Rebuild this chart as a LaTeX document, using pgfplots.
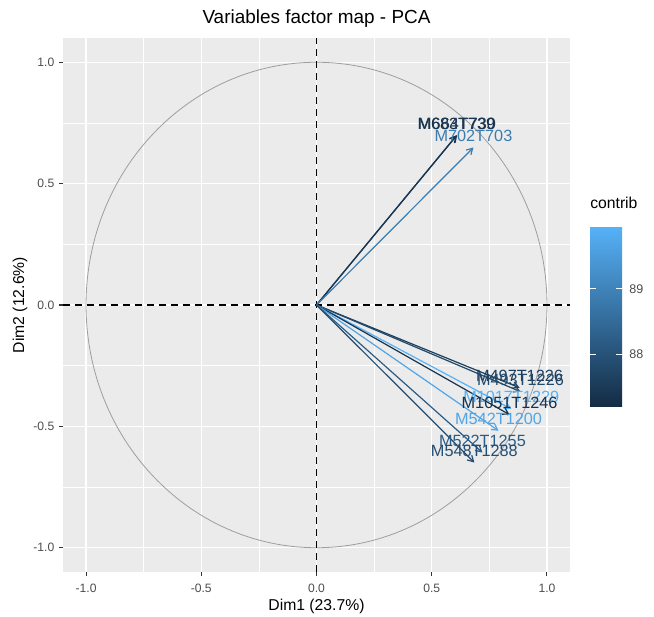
\documentclass[border=0pt]{standalone}
\usepackage{fontspec}
\setmainfont{Liberation Sans}
\usepackage{pgfplots}
\pgfplotsset{compat=1.18}
\usetikzlibrary{arrows.meta}

\definecolor{gglow}{HTML}{132B43}
\definecolor{gghigh}{HTML}{56B1F7}
\definecolor{ggpanel}{HTML}{EBEBEB}
\definecolor{ggtext}{HTML}{4D4D4D}
\definecolor{ggtick}{HTML}{333333}
\definecolor{ggcircle}{HTML}{9E9E9E}

% colour of an arrow from its contrib value (scale 87.2 .. 89.94)
\newcommand{\contribcolor}[2]{%
  \pgfmathsetmacro\cpct{(#2-87.2)/2.74*100}%
  \colorlet{#1}{gghigh!\cpct!gglow}}
\contribcolor{cA}{87.25}  % M683T739
\contribcolor{cB}{87.45}  % M664T730
\contribcolor{cC}{88.85}  % M702T703
\contribcolor{cD}{87.6}   % M497T1226
\contribcolor{cE}{87.8}   % M493T1226
\contribcolor{cF}{89.94}  % M1017T1229
\contribcolor{cG}{87.35}  % M1051T1246
\contribcolor{cH}{89.7}   % M542T1200
\contribcolor{cI}{88.2}   % M522T1255
\contribcolor{cJ}{87.9}   % M548T1288

\tikzset{
  pcaarrow/.style={line width=0.9pt, -{Straight Barb[angle=60:5pt]}},
  pcalabel/.style={anchor=base, yshift=4.5pt, inner sep=0pt, font=\fontsize{12.2}{14}\selectfont},
}

\begin{document}
\begin{tikzpicture}
\useasboundingbox (-47.25pt,-33.75pt) rectangle (443.25pt,429pt);
\begin{axis}[
  at={(0,0)}, anchor=south west,
  scale only axis, width=380.25pt, height=400.5pt,
  xmin=-1.1, xmax=1.1, ymin=-1.1, ymax=1.1,
  axis background/.style={fill=ggpanel},
  axis line style={draw=none},
  xtick={-1,-0.5,0,0.5,1}, ytick={-1,-0.5,0,0.5,1},
  xticklabels={-1.0,-0.5,0.0,0.5,1.0},
  yticklabels={-1.0,-0.5,0.0,0.5,1.0},
  minor xtick={-0.75,-0.25,0.25,0.75},
  minor ytick={-0.75,-0.25,0.25,0.75},
  grid=both,
  major grid style={white, line width=0.9pt},
  minor grid style={white, line width=0.45pt},
  tick pos=left, tick align=outside,
  major tick length=3pt, minor tick length=0pt,
  tick style={ggtick, line width=0.8pt},
  ticklabel style={font=\fontsize{9.1}{11}\selectfont, text=ggtext},
  xticklabel style={anchor=base, yshift=-12.5pt},
  title={Variables factor map - PCA},
  title style={at={(axis description cs:0.5,1)}, anchor=base, yshift=4.5pt,
    font=\fontsize{14.2}{16}\selectfont},
  xlabel={Dim1 (23.7\%)},
  ylabel={Dim2 (12.6\%)},
  xlabel style={at={(axis description cs:0.5,0)}, anchor=base, yshift=-29.25pt,
    font=\fontsize{11.8}{14}\selectfont},
  ylabel style={at={(axis description cs:-0.0848,0.5)}, anchor=center,
    font=\fontsize{11.8}{14}\selectfont},
  point meta min=87.2, point meta max=89.94,
  colormap={ggblue}{rgb255=(19,43,67) rgb255=(86,177,247)},
  colorbar right,
  colorbar shift/.style={xshift=0pt},
  colorbar/width=24pt,
  colorbar style={
    at={(parent axis.north east)}, anchor=north west,
    xshift=15pt, yshift=-141.75pt,
    scale only axis, width=24pt, height=135pt,
    ytick={88,89}, yticklabels={88,89},
    axis line style={draw=none},
    ytick pos=both, yticklabel pos=right,
    tick align=inside, major tick length=4.8pt,
    ytick style={white, line width=0.8pt},
    yticklabel style={font=\fontsize{9.4}{11}\selectfont, text=ggtext, xshift=2pt},
    title={contrib},
    title style={at={(axis description cs:0,1)}, anchor=base west, yshift=7.5pt,
      inner sep=0pt, font=\fontsize{11.8}{14}\selectfont},
  },
]
% correlation circle and the two axes through the origin
\draw[ggcircle, line width=0.6pt] (axis cs:0,0) ellipse [x radius=1, y radius=1];
\draw[black, line width=1.1pt, dash pattern=on 5.5pt off 3.5pt] (axis cs:0,-1.1) -- (axis cs:0,1.1);
\draw[black, line width=1.1pt, dash pattern=on 5.5pt off 3.5pt] (axis cs:-1.1,0) -- (axis cs:1.1,0);

% variable arrows
\addplot[cA, pcaarrow] coordinates {(0,0) (0.607,0.698)};
\addplot[cB, pcaarrow] coordinates {(0,0) (0.610,0.700)};
\addplot[cC, pcaarrow] coordinates {(0,0) (0.681,0.649)};
\addplot[cD, pcaarrow] coordinates {(0,0) (0.881,-0.341)};
\addplot[cE, pcaarrow] coordinates {(0,0) (0.885,-0.357)};
\addplot[cF, pcaarrow] coordinates {(0,0) (0.845,-0.428)};
\addplot[cG, pcaarrow] coordinates {(0,0) (0.838,-0.452)};
\addplot[cH, pcaarrow] coordinates {(0,0) (0.790,-0.518)};
\addplot[cI, pcaarrow] coordinates {(0,0) (0.720,-0.608)};
\addplot[cJ, pcaarrow] coordinates {(0,0) (0.685,-0.649)};

% labels
\node[pcalabel, text=cA] at (axis cs:0.607,0.698) {M683T739};
\node[pcalabel, text=cB] at (axis cs:0.610,0.700) {M664T730};
\node[pcalabel, text=cC] at (axis cs:0.681,0.649) {M702T703};
\node[pcalabel, text=cD] at (axis cs:0.881,-0.341) {M497T1226};
\node[pcalabel, text=cE] at (axis cs:0.885,-0.357) {M493T1226};
\node[pcalabel, text=cF] at (axis cs:0.845,-0.428) {M1017T1229};
\node[pcalabel, text=cG] at (axis cs:0.838,-0.452) {M1051T1246};
\node[pcalabel, text=cH] at (axis cs:0.790,-0.518) {M542T1200};
\node[pcalabel, text=cI] at (axis cs:0.720,-0.608) {M522T1255};
\node[pcalabel, text=cJ] at (axis cs:0.685,-0.649) {M548T1288};
\end{axis}
\end{tikzpicture}
\end{document}
